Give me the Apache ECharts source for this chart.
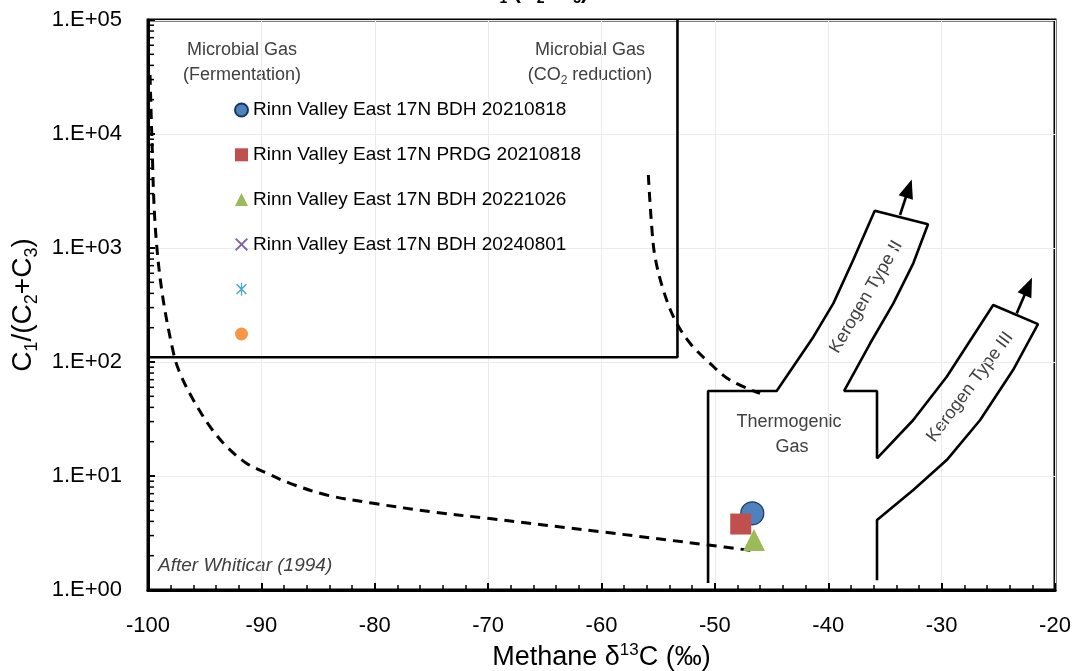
<!DOCTYPE html>
<html><head><meta charset="utf-8">
<script src="https://cdn.jsdelivr.net/npm/echarts@6/dist/echarts.min.js"></script>
<style>html,body{margin:0;padding:0;background:#fff;overflow:hidden}#c{width:1076px;height:671px}</style>
</head><body><div id="c"></div>
<script>
// ---- data ----
const yTickLabels = ['1.E+00','1.E+01','1.E+02','1.E+03','1.E+04','1.E+05'];
const yDecades = [1, 10, 100, 1000, 10000];
const yMinorSteps = [2, 3, 4, 5, 6, 7, 8, 9];
const seriesNames = ['Rinn Valley East 17N BDH 20210818','Rinn Valley East 17N PRDG 20210818','Rinn Valley East 17N BDH 20221026','Rinn Valley East 17N BDH 20240801','_s5','_s6'];
const bdh20210818 = [[-46.7, 4.71]];
const prdg20210818 = [[-47.72, 3.79]];
const bdh20221026 = [[-46.55, 2.75]];
const bdh20240801 = [];
const unnamed5 = [];
const unnamed6 = [];
// Whiticar (1994) boundaries
const fermentationCurve = [[-99.82,32940],[-99.67,10200],[-99.38,1657],[-98.79,428],[-97.77,122],[-97.18,79.6],[-96.0,46.4],[-94.53,27.1],[-93.06,18.1],[-91.29,12.9],[-89.53,10.6],[-87.48,8.63],[-84.24,6.81],[-80.13,5.76],[-74.84,4.83],[-70.13,4.26],[-60.13,3.25],[-50.58,2.48],[-46.46,2.20]];
const co2Curve = [[-55.87,4366],[-55.57,1538],[-55.28,839],[-54.55,428],[-53.52,234],[-52.19,146],[-50.43,97.4],[-48.67,69.5],[-46.02,53.1]];
const microbialBox = [[-100,110],[-53.3,110],[-53.3,100000]];
const thermogenicOutline = [[-50.6,1.15],[-50.6,55.7],[-44.55,55.7],[-41.3,166.7],[-39.55,327],[-37.8,785],[-35.9,2125],[-31.2,1614],[-32.5,734],[-34.26,327],[-36.3,146],[-38.6,55.7],[-35.7,55.7],[-35.7,14.3],[-32.5,31],[-29.55,74.3],[-25.45,316],[-21.5,215],[-23.7,85],[-26.6,31],[-29.55,13.8],[-32.5,7.54],[-35.7,4.11],[-35.7,1.22]];
const typeIIArrow = [[-33.67,1947],[-32.9,3326]];
const typeIIIArrow = [[-23.38,267],[-22.36,459]];

// ---- chart ----
const FONT = 'Liberation Sans';
const chart = echarts.init(document.getElementById('c'));
const yMinorTicks = [];
yDecades.forEach(d => yMinorSteps.forEach(s => yMinorTicks.push([-100, d * s])));

const xPath = 'path://M1,0L5,4L9,0L10,1L6,5L10,9L9,10L5,6L1,10L0,9L4,5L0,1Z';
const starPath = 'path://M1,0L5,4L9,0L10,1L6,5L10,9L9,10L5,6L1,10L0,9L4,5L0,1Z M4.4,-1L5.6,-1L5.6,11L4.4,11Z';
const boundaryStyle = {color:'#000', width:2.6};
function boundary(data, dashed){
  return {type:'line', data, showSymbol:false, symbol:'none', silent:true, z:3, smooth: dashed ? 0.35 : false,
    lineStyle: dashed ? {color:'#000', width:3, type:[10,7]} : boundaryStyle};
}
const option = {
  animation:false,
  grid:{left:148, right:21, top:20, bottom:81, show:true, borderColor:'#000', borderWidth:3, containLabel:false, outerBoundsMode:'none'},
  xAxis:{type:'value', min:-100, max:-20, interval:10,
    axisLine:{show:true, onZero:false, lineStyle:{color:'#000', width:3}},
    axisTick:{show:true, inside:true, length:7, lineStyle:{color:'#000', width:2}},
    minorTick:{show:true, splitNumber:5, length:5, lineStyle:{color:'#000', width:1.5}},
    splitLine:{show:true, lineStyle:{color:'#ebebeb', width:1}},
    axisLabel:{fontFamily:FONT, fontSize:22, color:'#000', margin:25},
    name:'{a|Methane δ}{s|13}{a|C (‰)}', nameLocation:'middle', nameGap:52,
    nameTextStyle:{fontFamily:FONT, fontSize:27, color:'#000', rich:{a:{fontFamily:FONT, fontSize:27, lineHeight:32, color:'#000'}, s:{fontFamily:FONT, fontSize:17, lineHeight:16, verticalAlign:'top', color:'#000'}}}
  },
  yAxis:{type:'log', logBase:10, min:1, max:100000,
    axisLine:{show:true, onZero:false, lineStyle:{color:'#000', width:3}},
    axisTick:{show:true, inside:true, length:7, lineStyle:{color:'#000', width:2}},
    splitLine:{show:true, lineStyle:{color:'#ebebeb', width:1}},
    axisLabel:{fontFamily:FONT, fontSize:22, color:'#000', margin:26,
      formatter: v => yTickLabels[Math.round(Math.log10(v))]},
    name:'{a|C}{s|1}{a|/(C}{s|2}{a|+C}{s|3}{a|)}', nameLocation:'middle', nameGap:95,
    nameTextStyle:{fontFamily:FONT, fontSize:28, color:'#000', rich:{a:{fontFamily:FONT, fontSize:28, lineHeight:34, color:'#000'}, s:{fontFamily:FONT, fontSize:18, lineHeight:17, verticalAlign:'bottom', color:'#000'}}}
  },
  legend:{orient:'vertical', left:229, top:95, itemWidth:13, itemHeight:13, itemGap:24.8,
    textStyle:{fontFamily:FONT, fontSize:19, color:'#000', lineHeight:20},
    formatter: n => n.startsWith('_') ? ' ' : n,
    selectedMode:false,
    data:[{name:seriesNames[0], icon:'circle'},{name:seriesNames[1], icon:'rect'},{name:seriesNames[2], icon:'triangle'},{name:seriesNames[3], icon:xPath},{name:seriesNames[4], icon:starPath},{name:seriesNames[5], icon:'circle'}]
  },
  series:[
    boundary(microbialBox, false),
    Object.assign(boundary(thermogenicOutline, false), {markLine:{silent:true, symbol:['none','triangle'], symbolSize:[15,19], precision:4,
      lineStyle:{color:'#000', width:2.6, type:'solid'}, label:{show:false},
      data:[[{coord:typeIIArrow[0]},{coord:typeIIArrow[1]}],[{coord:typeIIIArrow[0]},{coord:typeIIIArrow[1]}]]}}),
    boundary(fermentationCurve, true),
    boundary(co2Curve, true),
    {type:'custom', silent:true, z:4, data:yMinorTicks,
      renderItem:(params, api) => { const p = api.coord([api.value(0), api.value(1)]);
        return {type:'line', shape:{x1:p[0], y1:p[1], x2:p[0]+6, y2:p[1]}, style:{stroke:'#000', lineWidth:1.5}}; }},
    {name:seriesNames[0], type:'scatter', data:bdh20210818, symbol:'circle', symbolSize:23, z:6,
      itemStyle:{color:'#4f81bd', borderColor:'#17375e', borderWidth:1.2, opacity:1}},
    {name:seriesNames[1], type:'scatter', data:prdg20210818, symbol:'rect', symbolSize:21, z:7,
      itemStyle:{color:'#c0504d', opacity:1}},
    {name:seriesNames[2], type:'scatter', data:bdh20221026, symbol:'triangle', symbolSize:22, z:8,
      itemStyle:{color:'#9bbb59', opacity:1}},
    {name:seriesNames[3], type:'scatter', data:bdh20240801, symbol:xPath, symbolSize:12, itemStyle:{color:'#8064a2', opacity:1}},
    {name:seriesNames[4], type:'scatter', data:unnamed5, symbol:starPath, symbolSize:12, itemStyle:{color:'#4bacc6', opacity:1}},
    {name:seriesNames[5], type:'scatter', data:unnamed6, symbol:'circle', symbolSize:12, itemStyle:{color:'#f79646', opacity:1}}
  ],
  graphic:[
    {type:'text', x:536, y:6, silent:true, style:{text:'{a|C}{s|1}{a|/(C}{s|2}{a|+C}{s|3}{a|)}', align:'center', verticalAlign:'bottom',
      rich:{a:{fontFamily:FONT, fontSize:22, fontWeight:'bold', lineHeight:28, fill:'#000'}, s:{fontFamily:FONT, fontSize:14, fontWeight:'bold', lineHeight:14, verticalAlign:'bottom', fill:'#000'}}}},
    {type:'text', x:242, y:50, silent:true, style:{text:'Microbial Gas', align:'center', verticalAlign:'middle', font:'18px "Liberation Sans"', fill:'#404040'}},
    {type:'text', x:242, y:75, silent:true, style:{text:'(Fermentation)', align:'center', verticalAlign:'middle', font:'18px "Liberation Sans"', fill:'#404040'}},
    {type:'text', x:590, y:50, silent:true, style:{text:'Microbial Gas', align:'center', verticalAlign:'middle', font:'18px "Liberation Sans"', fill:'#404040'}},
    {type:'text', x:590, y:75, silent:true, style:{text:'{a|(CO}{s|2}{a| reduction)}', align:'center', verticalAlign:'middle',
      rich:{a:{fontFamily:FONT, fontSize:18, lineHeight:24, fill:'#404040'}, s:{fontFamily:FONT, fontSize:12, lineHeight:12, verticalAlign:'bottom', fill:'#404040'}}}},
    {type:'text', x:789, y:422, silent:true, style:{text:'Thermogenic', align:'center', verticalAlign:'middle', font:'18px "Liberation Sans"', fill:'#404040'}},
    {type:'text', x:792, y:447, silent:true, style:{text:'Gas', align:'center', verticalAlign:'middle', font:'18px "Liberation Sans"', fill:'#404040'}},
    {type:'text', x:866, y:297, rotation:1.04, silent:true, style:{text:'Kerogen Type II', align:'center', verticalAlign:'middle', font:'18px "Liberation Sans"', fill:'#404040'}},
    {type:'text', x:970, y:387, rotation:0.93, silent:true, style:{text:'Kerogen Type III', align:'center', verticalAlign:'middle', font:'18px "Liberation Sans"', fill:'#404040'}},
    {type:'text', x:158, y:566, silent:true, style:{text:'After Whiticar (1994)', align:'left', verticalAlign:'middle', font:'italic 19px "Liberation Sans"', fill:'#404040'}}
  ]
};
chart.setOption(option);
</script></body></html>
